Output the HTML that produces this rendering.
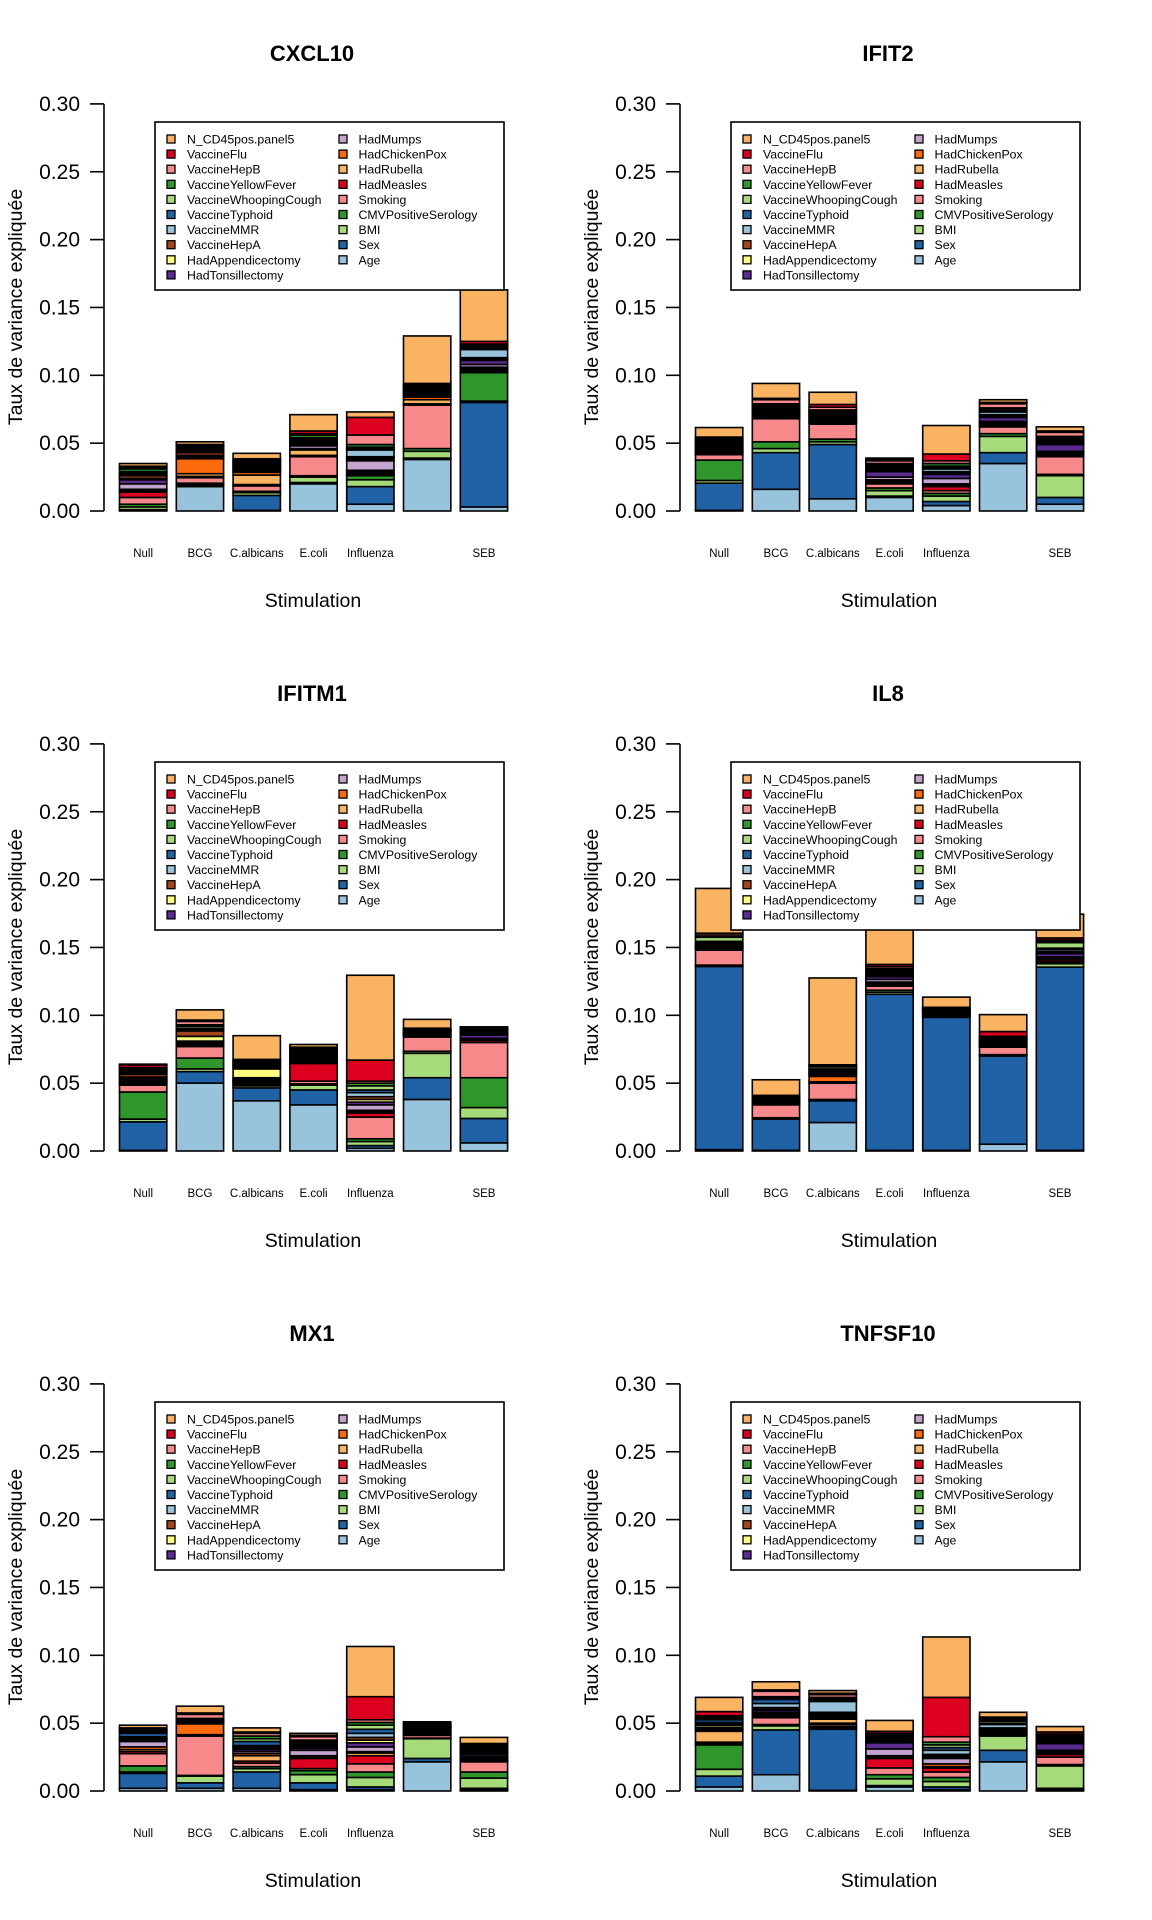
<!DOCTYPE html>
<html><head><meta charset="utf-8">
<style>
html,body{margin:0;padding:0;background:#fff;}
svg{display:block;font-family:"Liberation Sans",Arial,sans-serif;}
</style></head>
<body>
<svg id="chart" width="1152" height="1920" viewBox="0 0 1152 1920" xmlns="http://www.w3.org/2000/svg"></svg>
<script>
// ---- data ----
const genes = ["CXCL10","IFIT2","IFITM1","IL8","MX1","TNFSF10"];
const stimulations = ["Null","BCG","C.albicans","E.coli","Influenza","","SEB"];
// stacking order bottom -> top
const variables = ["Age","Sex","BMI","CMVPositiveSerology","Smoking","HadMeasles","HadRubella","HadChickenPox","HadMumps","HadTonsillectomy","HadAppendicectomy","VaccineHepA","VaccineMMR","VaccineTyphoid","VaccineWhoopingCough","VaccineYellowFever","VaccineHepB","VaccineFlu","N_CD45pos.panel5"];
const variableColors = ["#97c4dc","#1f62a6","#a6db7a","#2e962a","#f8898a","#dc001e","#fab360","#fd6b0c","#c2a4cf","#5b2a8f","#ffff80","#a5441e","#97c4dc","#1f62a6","#a6db7a","#2e962a","#f8898a","#dc001e","#fab360"];
const legendCol1 = ["N_CD45pos.panel5","VaccineFlu","VaccineHepB","VaccineYellowFever","VaccineWhoopingCough","VaccineTyphoid","VaccineMMR","VaccineHepA","HadAppendicectomy","HadTonsillectomy"];
const legendCol2 = ["HadMumps","HadChickenPox","HadRubella","HadMeasles","Smoking","CMVPositiveSerology","BMI","Sex","Age"];
const yTicks = [0,0.05,0.10,0.15,0.20,0.25,0.30];
const yTickLabels = ["0.00","0.05","0.10","0.15","0.20","0.25","0.30"];

const cxcl10Values = [
 [.0005,.0005,.002,.002,.005,.004,.001,.001,.004,.003,.001,.002,.001,.001,.001,.002,.001,.001,.002],
 [.018,.001,.001,.0005,.004,.001,.002,.011,.001,.001,.0005,.002,.001,.001,.001,.001,.001,.001,.002],
 [.0005,.011,.002,.001,.004,.001,.007,.002,.001,.001,.001,.001,.001,.001,.001,.001,.001,.001,.004],
 [.020,.001,.004,.001,.014,.001,.004,.001,.002,.001,.001,.001,.001,.001,.001,.002,.001,.002,.012],
 [.005,.013,.005,.003,.001,.001,.001,.001,.007,.001,.001,.001,.005,.001,.001,.002,.007,.013,.004],
 [.038,.001,.005,.002,.032,.001,.003,.002,.001,.001,.001,.001,.001,.001,.001,.001,.001,.001,.035],
 [.003,.077,.001,.021,.001,.001,.001,.001,.002,.003,.001,.001,.006,.001,.001,.001,.001,.002,.038]
];
const ifit2Values = [
 [.0005,.020,.002,.015,.004,.001,.001,.001,.001,.001,.001,.001,.001,.001,.001,.001,.001,.001,.007],
 [.016,.027,.003,.005,.017,.001,.001,.001,.001,.001,.001,.001,.001,.001,.001,.001,.003,.001,.011],
 [.009,.040,.002,.002,.011,.001,.001,.001,.001,.001,.001,.001,.001,.001,.001,.0005,.002,.002,.009],
 [.010,.001,.004,.002,.003,.001,.001,.001,.002,.004,.001,.001,.001,.001,.001,.001,.002,.001,.001],
 [.004,.003,.004,.002,.002,.003,.001,.001,.004,.003,.001,.001,.002,.001,.001,.002,.002,.005,.021],
 [.035,.008,.012,.002,.005,.001,.001,.001,.001,.003,.001,.001,.002,.001,.001,.001,.003,.001,.002],
 [.005,.005,.016,.001,.013,.001,.001,.001,.001,.005,.001,.001,.001,.001,.001,.001,.003,.001,.003]
];
const ifitm1Values = [
 [.0005,.021,.002,.020,.005,.001,.001,.001,.001,.001,.001,.002,.001,.001,.001,.001,.001,.002,.0005],
 [.050,.0085,.002,.008,.0085,.001,.001,.001,.0005,.0005,.0035,.004,.001,.001,.0015,.001,.0025,.001,.0075],
 [.037,.0095,.0015,.001,.001,.001,.0005,.0005,.001,.001,.0065,.001,.001,.001,.001,.001,.001,.001,.0175],
 [.034,.011,.0035,.001,.002,.013,.001,.001,.001,.001,.001,.001,.001,.001,.001,.001,.001,.001,.002],
 [.002,.002,.003,.002,.016,.003,.001,.001,.004,.002,.002,.002,.003,.002,.003,.002,.0015,.0155,.0625],
 [.038,.016,.018,.0015,.0105,.0005,.0005,.0005,.0005,.0005,.0005,.0005,.0005,.0005,.0005,.0005,.0005,.0005,.0065],
 [.006,.018,.008,.022,.026,.0015,.0005,.0005,.0005,.0025,.0005,.001,.0005,.0005,.0005,.0005,.0005,.001,.001]
];
const il8Values = [
 [.001,.135,.0005,.0005,.011,.0005,.001,.0005,.0005,.0005,.0005,.001,.001,.001,.003,.001,.0015,.0005,.033],
 [.0005,.023,.0005,.0005,.0095,.0005,.0005,.0005,.0005,.0005,.0005,.001,.0005,.0005,.0005,.0005,.0005,.0005,.0115],
 [.021,.016,.0005,.0005,.012,.0005,.0005,.004,.001,.001,.0005,.001,.001,.001,.0015,.0005,.0005,.0005,.064],
 [.0005,.115,.0015,.0015,.003,.001,.001,.001,.002,.002,.001,.001,.001,.001,.001,.001,.0015,.0015,.035],
 [.0005,.098,.0005,.0005,.0005,.001,.0005,.0005,.001,.0005,.0003,.0003,.0003,.0003,.0003,.0003,.0003,.0003,.0075],
 [.005,.065,.0005,.0005,.0055,.001,.0005,.0005,.0005,.001,.0005,.001,.0005,.0005,.0005,.001,.0005,.0035,.0125],
 [.0005,.135,.0025,.001,.001,.0015,.0005,.0005,.0005,.0025,.0005,.001,.0015,.001,.004,.001,.001,.0015,.0175]
];
const mx1Values = [
 [.002,.011,.001,.0045,.009,.0015,.0015,.002,.004,.001,.0005,.001,.001,.0025,.001,.001,.001,.001,.002],
 [.002,.004,.005,.0005,.029,.0005,.0005,.008,.0005,.0005,.0005,.0005,.0005,.0005,.0005,.0005,.003,.001,.005],
 [.002,.012,.0025,.0015,.0025,.0015,.004,.0015,.0015,.0015,.001,.001,.001,.003,.002,.002,.002,.001,.003],
 [.001,.005,.006,.003,.0015,.0075,.001,.001,.004,.0015,.001,.001,.001,.001,.001,.001,.0025,.001,.0015],
 [.001,.002,.007,.004,.006,.006,.002,.001,.0035,.003,.002,.002,.003,.003,.003,.002,.002,.017,.037],
 [.0215,.0025,.0145,.0005,.002,.001,.0005,.0005,.0005,.001,.0005,.001,.0005,.0005,.0005,.0005,.001,.001,.001],
 [.001,.001,.0075,.0045,.0075,.001,.001,.001,.001,.0015,.001,.001,.001,.001,.001,.001,.001,.001,.0045]
];
const tnfsf10Values = [
 [.003,.008,.005,.018,.001,.001,.008,.001,.001,.001,.0015,.001,.001,.002,.001,.001,.001,.003,.0105],
 [.012,.033,.003,.001,.005,.001,.001,.001,.001,.0015,.001,.001,.003,.003,.001,.001,.004,.001,.006],
 [.0005,.045,.001,.001,.0015,.001,.003,.001,.001,.001,.001,.001,.008,.001,.001,.001,.002,.001,.002],
 [.003,.001,.005,.003,.005,.007,.001,.001,.005,.0045,.001,.001,.001,.001,.001,.001,.001,.0015,.008],
 [.001,.002,.004,.003,.004,.003,.001,.002,.004,.001,.001,.001,.003,.002,.002,.002,.004,.029,.0445],
 [.0215,.0085,.0105,.001,.001,.0005,.0005,.0005,.0005,.001,.0005,.0005,.0025,.001,.0015,.001,.001,.001,.0035],
 [.001,.001,.0165,.001,.0055,.002,.001,.001,.001,.005,.001,.001,.001,.001,.001,.001,.001,.0015,.004]
];
const geneValues = [cxcl10Values, ifit2Values, ifitm1Values, il8Values, mx1Values, tnfsf10Values];

// ---- drawing ----
const NS = "http://www.w3.org/2000/svg";
const svg = document.getElementById("chart");
function mk(tag, attrs, parent, text){
  const e = document.createElementNS(NS, tag);
  for (const k in attrs) e.setAttribute(k, attrs[k]);
  if (text !== undefined) e.textContent = text;
  parent.appendChild(e);
  return e;
}
const Y0 = 511, PXPERUNIT = 1357;
function yScale(v){ return Y0 - v * PXPERUNIT; }
function xLeft(i){ return 119.5 + i * 56.8; }
const BARW = 47.3;
const varColor = {};
variables.forEach((v,i)=>{ varColor[v] = variableColors[i]; });

genes.forEach((gene, gi) => {
  const col = gi % 2, row = Math.floor(gi / 2);
  const g = mk("g", {transform: `translate(${col*576},${row*640})`}, svg);
  
  

  const t = mk("text", {x: 312, y: 61, "text-anchor": "middle", "font-size": 22, "font-weight": "bold"}, g, gene);
  
  

  const vals = geneValues[gi];
  vals.forEach((barVals, bi) => {
    const bg = mk("g", {}, g);
    
    
    let cum = 0;
    barVals.forEach((v, vi) => {
      const y1 = yScale(cum), y2 = yScale(cum + v);
      const r = mk("rect", {x: xLeft(bi), y: y2, width: BARW, height: Math.max(0, y1 - y2), fill: variableColors[vi], stroke: "#000", "stroke-width": 1.6}, bg);
      
      
      cum += v;
    });
  });

  const ax = mk("g", {}, g);
  
  
  mk("line", {x1: 104, x2: 104, y1: yScale(yTicks[yTicks.length-1]), y2: yScale(yTicks[0]), stroke: "#000", "stroke-width": 1.6}, ax);
  yTicks.forEach((tv, ti) => {
    mk("line", {x1: 90, x2: 104, y1: yScale(tv), y2: yScale(tv), stroke: "#000", "stroke-width": 1.6}, ax);
    const tl = mk("text", {x: 80, y: yScale(tv) + 7, "text-anchor": "end", "font-size": 21}, ax, yTickLabels[ti]);
    
    
  });
  const yt = mk("text", {x: 0, y: 0, transform: "translate(22,307) rotate(-90)", "text-anchor": "middle", "font-size": 19.5}, g, "Taux de variance expliquée");
  
  

  stimulations.forEach((s, si) => {
    if (!s) return;
    const xl = mk("text", {x: xLeft(si) + BARW/2, y: 557, "text-anchor": "middle", "font-size": 11.5}, g, s);
    
    
  });
  const xt = mk("text", {x: 313, y: 607, "text-anchor": "middle", "font-size": 19.5}, g, "Stimulation");
  
  

  const lg = mk("g", {}, g);
  
  
  mk("rect", {x: 155, y: 122, width: 349, height: 168, fill: "#fff", stroke: "#000", "stroke-width": 1.6}, lg);
  [[legendCol1, 171, 187], [legendCol2, 343, 358.5]].forEach(([items, sx, tx]) => {
    items.forEach((name, ii) => {
      const cy = 139 + ii * 15.1;
      const e = mk("g", {}, lg);
      
      
      mk("rect", {x: sx - 4, y: cy - 4, width: 8, height: 8, fill: varColor[name], stroke: "#000", "stroke-width": 1.3}, e);
      mk("text", {x: tx, y: cy + 4.5, "font-size": 12.3}, e, name);
    });
  });
});
</script>
</body></html>
